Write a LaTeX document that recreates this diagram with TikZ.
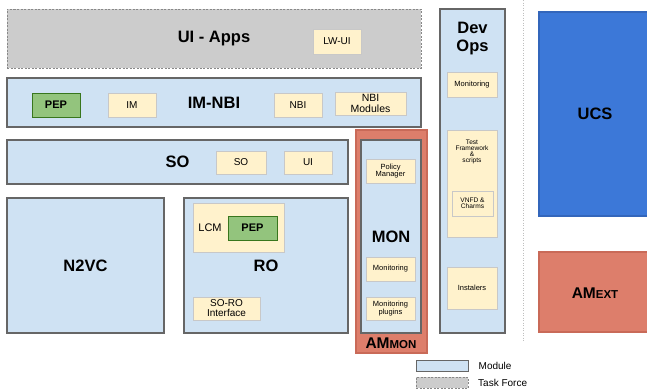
\documentclass[tikz,border=0pt]{standalone}
\usepackage{fontspec}
\setmainfont{Liberation Sans}
\definecolor{modfill}{HTML}{CFE2F3}
\definecolor{modline}{HTML}{666666}
\definecolor{yelfill}{HTML}{FFF2CC}
\definecolor{yelline}{HTML}{C8C8C8}
\definecolor{pepfill}{HTML}{93C47D}
\definecolor{pepline}{HTML}{38761D}
\definecolor{redfill}{HTML}{DD7E6B}
\definecolor{redline}{HTML}{C96A58}
\definecolor{bluefill}{HTML}{3C78D8}
\definecolor{blueline}{HTML}{3366BB}
\definecolor{tffill}{HTML}{CCCCCC}
\definecolor{tfline}{HTML}{888888}
\newcommand{\fsz}[1]{\fontsize{#1pt}{1.15\dimexpr #1pt\relax}\selectfont}
\tikzset{
  box/.style={rectangle, inner sep=0pt, align=center},
  modbox/.style={box, fill=modfill, draw=modline, line width=1.3pt},
  tfbox/.style={box, fill=tffill, draw=tfline, line width=1pt, dash pattern=on 2pt off 1.5pt},
  ybox/.style={box, fill=yelfill, draw=yelline, line width=1pt, font=\fsz{10}},
  ysmall/.style={box, fill=yelfill, draw=yelline, line width=1pt, font=\fsz{7.5}},
  pepbox/.style={box, fill=pepfill, draw=pepline, line width=1pt, font=\bfseries\fsz{11}},
  redbox/.style={box, fill=redfill, draw=redline, line width=1.3pt},
  bluebox/.style={box, fill=bluefill, draw=blueline, line width=1.3pt},
  title/.style={font=\bfseries\fsz{16.5}},
}
\begin{document}
\begin{tikzpicture}[x=1pt,y=-1pt]
\useasboundingbox (0,0) rectangle (647,389);
% UI-Apps
\node[tfbox, minimum width=414pt, minimum height=59pt, title] (uiapps) at (214,38.5) {UI - Apps};
\node[ybox, minimum width=48pt, minimum height=25pt] (lwui) at (337,41.5) {LW-UI};
% IM-NBI
\node[modbox, minimum width=414pt, minimum height=49pt, title] (imnbi) at (214,102.5) {IM-NBI};
\node[pepbox, minimum width=48pt, minimum height=24pt] (pep1) at (56,105) {PEP};
\node[ybox, minimum width=48pt, minimum height=24pt] (im) at (132,105) {IM};
\node[ybox, minimum width=48pt, minimum height=24pt] (nbi) at (298,105) {NBI};
\node[ybox, minimum width=71pt, minimum height=23pt, font=\fsz{10.5}] (nbimod) at (370.5,103.5) {NBI\\[-1.8pt]Modules};
% SO
\node[modbox, minimum width=341pt, minimum height=44pt, title] (so) at (177.5,162) {SO};
\node[ybox, minimum width=50pt, minimum height=23pt] (sosmall) at (241,162.5) {SO};
\node[ybox, minimum width=48pt, minimum height=23pt] (ui) at (308,162.5) {UI};
% N2VC
\node[modbox, minimum width=157pt, minimum height=135pt, title] (n2vc) at (85.5,265.5) {N2VC};
% RO
\node[modbox, minimum width=164pt, minimum height=135pt, title] (ro) at (266,265.5) {RO};
\node[ybox, minimum width=91pt, minimum height=49pt] (lcm) at (238.5,227.5) {};
\node[font=\fsz{11}, inner sep=0pt] (lcmtext) at (210,228) {LCM};
\node[pepbox, minimum width=49pt, minimum height=24pt] (pep2) at (252.5,228) {PEP};
\node[ybox, minimum width=67pt, minimum height=23pt, font=\fsz{10}] (soro) at (226.5,308.5) {SO-RO\\[-1.5pt]Interface};
% AMMON
\node[redbox, minimum width=71pt, minimum height=223pt] (ammon) at (391.5,241.5) {};
\node[modbox, minimum width=60pt, minimum height=193pt, title] (mon) at (391,236.5) {MON};
\node[inner sep=0pt, anchor=base] (ammonlbl) at (391,348) {\bfseries\fsz{15.5}AM\fsz{11.5}MON};
\node[ysmall, minimum width=49pt, minimum height=24pt] (policy) at (390.5,171) {Policy\\[-1pt]Manager};
\node[ysmall, minimum width=49pt, minimum height=24pt] (monmon) at (390.5,269) {Monitoring};
\node[ysmall, minimum width=49pt, minimum height=23pt] (monplug) at (390.5,308.5) {Monitoring\\[-1pt]plugins};
% DevOps
\node[modbox, minimum width=65pt, minimum height=324pt] (devops) at (472.5,171) {};
\node[align=center, inner sep=0pt, font=\bfseries\fsz{16.5}] (devopslbl) at (472.5,38.5) {Dev\\[-1.5pt]Ops};
\node[ysmall, minimum width=50pt, minimum height=25pt] (devmon) at (472,84.5) {Monitoring};
\node[ysmall, minimum width=50pt, minimum height=107pt] (testfw) at (472,183.5) {};
\node[inner sep=0pt, align=center, font=\fsz{6.6}] (testfwlbl) at (472,151.5) {Test\\[-1.6pt]Framework\\[-1.6pt]\&\\[-1.6pt]scripts};
\node[ysmall, minimum width=41pt, minimum height=25pt, font=\fsz{6.6}] (vnfd) at (472.5,203.5) {VNFD \&\\[-1.2pt]Charms};
\node[ysmall, minimum width=50pt, minimum height=42pt] (inst) at (472,288) {Instalers};
% separator
\coordinate (septop) at (523,0);
\coordinate (sepbot) at (523,342);
\draw[color=black!25, line width=0.8pt, dash pattern=on 1pt off 1.5pt] (septop) -- (sepbot);
% UCS and AMEXT
\node[bluebox, minimum width=112pt, minimum height=204pt, title] (ucs) at (595,114) {UCS};
\node[redbox, minimum width=112pt, minimum height=80pt] (amext) at (595,292) {};
\node[inner sep=0pt, anchor=base] (amextlbl) at (595,298) {\bfseries\fsz{15.5}AM\fsz{11.5}EXT};
% legend
\node[modbox, line width=1pt, minimum width=52pt, minimum height=11pt] (legmod) at (442,365.5) {};
\node[anchor=west, inner sep=0pt, font=\fsz{10}] (legmodtxt) at (478.5,366) {Module};
\node[tfbox, minimum width=52pt, minimum height=11pt] (legtf) at (442,382.5) {};
\node[anchor=west, inner sep=0pt, font=\fsz{10}] (legtftxt) at (478,383) {Task Force};
\end{tikzpicture}
\end{document}
